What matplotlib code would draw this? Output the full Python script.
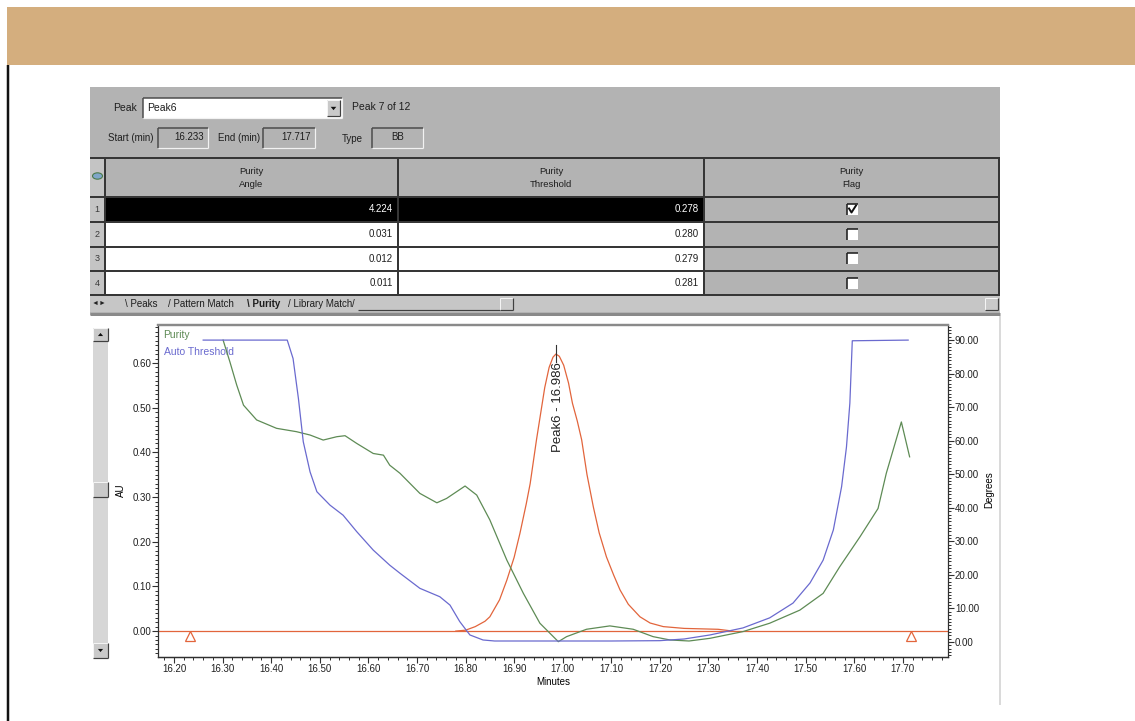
import matplotlib
matplotlib.use("Agg")
import matplotlib.pyplot as plt
from matplotlib.patches import Rectangle, Polygon, Circle
from matplotlib.lines import Line2D
from matplotlib.ticker import MultipleLocator, FormatStrFormatter
from matplotlib.transforms import offset_copy

FONT = ["Liberation Sans", "DejaVu Sans"]
plt.rcParams["font.family"] = FONT

# ---------------- data ----------------
peak_name = "Peak6"
peak_rt = 16.986
peak_start = 16.233
peak_end = 17.717
peak_type = "BB"
peak_index, peak_count = 7, 12

table_rows = [1, 2, 3, 4]
purity_angle = [4.224, 0.031, 0.012, 0.011]
purity_threshold = [0.278, 0.280, 0.279, 0.281]
purity_flag = [True, False, False, False]
tab_names = ["Peaks", "Pattern Match", "Purity", "Library Match"]

# chromatogram (AU)
chrom_t = [16.78, 16.80, 16.82, 16.84, 16.85, 16.87, 16.885, 16.90, 16.912, 16.925,
           16.933, 16.946, 16.955, 16.963, 16.972, 16.98, 16.986, 16.993, 17.002,
           17.012, 17.02, 17.03, 17.039, 17.05, 17.063, 17.075, 17.09, 17.105,
           17.118, 17.135, 17.159, 17.18, 17.207, 17.25, 17.32, 17.35]
chrom_au = [0.0, 0.002, 0.010, 0.022, 0.032, 0.070, 0.114, 0.165, 0.219, 0.285,
            0.330, 0.428, 0.490, 0.545, 0.590, 0.613, 0.620, 0.615, 0.595,
            0.555, 0.510, 0.470, 0.428, 0.350, 0.278, 0.220, 0.166, 0.125,
            0.092, 0.060, 0.032, 0.018, 0.010, 0.006, 0.004, 0.0]

# purity angle (degrees)
purity_t = [16.301, 16.315, 16.329, 16.343, 16.37, 16.411, 16.452, 16.48, 16.507,
            16.535, 16.552, 16.576, 16.61, 16.631, 16.644, 16.665, 16.706, 16.741,
            16.761, 16.799, 16.823, 16.85, 16.885, 16.919, 16.953, 16.991, 17.008,
            17.049, 17.097, 17.145, 17.186, 17.221, 17.26, 17.303, 17.371, 17.426,
            17.488, 17.536, 17.570, 17.612, 17.649, 17.666, 17.697, 17.714]
purity_deg = [90, 83.5, 76.6, 70.6, 66.2, 63.7, 62.7, 61.7, 60.2,
              61.2, 61.5, 59.2, 56.2, 55.7, 52.7, 50.3, 44.3, 41.5,
              42.8, 46.5, 43.8, 36.4, 24.4, 14.5, 5.6, 0.1, 1.6,
              3.8, 4.8, 3.8, 1.6, 0.6, 0.3, 1.1, 3.1, 5.6,
              9.5, 14.5, 22.4, 31.4, 39.8, 50.3, 65.6, 55.2]

# auto threshold (degrees)
thresh_t = [16.26, 16.433, 16.445, 16.456, 16.466, 16.48, 16.494, 16.521, 16.548,
            16.576, 16.61, 16.644, 16.665, 16.706, 16.747, 16.768, 16.788, 16.809,
            16.836, 16.86, 17.0, 17.10, 17.20, 17.25, 17.303, 17.371, 17.426,
            17.474, 17.509, 17.536, 17.557, 17.574, 17.584, 17.591, 17.596, 17.711]
thresh_deg = [90, 90, 84.5, 72.6, 59.7, 50.7, 44.8, 40.8, 37.8,
              32.9, 27.4, 22.9, 20.5, 16.0, 13.5, 11.0, 6.1, 2.1,
              0.6, 0.3, 0.3, 0.3, 0.4, 0.9, 2.1, 4.2, 7.2,
              11.6, 17.6, 24.4, 33.4, 46.3, 58.1, 71.2, 89.8, 90]

# ---------------- colours ----------------
C_BANNER = "#D4AE7E"
C_PANEL = "#B3B3B3"
C_DARK = "#363636"
C_RED = "#E2653C"
C_GREEN = "#5E8B55"
C_BLUE = "#6A6ACF"

W, H = 1135, 721
fig = plt.figure(figsize=(W / 100, H / 100), dpi=100)
fig.patch.set_facecolor("white")


def fx(px):
    return px / W


def fy(py):
    return 1 - py / H


def rect(x0, y0, x1, y1, fc, ec="none", lw=0, z=-10):
    fig.add_artist(Rectangle((fx(x0), fy(y1)), (x1 - x0) / W, (y1 - y0) / H,
                             transform=fig.transFigure, facecolor=fc,
                             edgecolor=ec, linewidth=lw, zorder=z))


def line(x0, y0, x1, y1, color, lw_px=1.0, z=-9):
    fig.add_artist(Line2D([fx(x0), fx(x1)], [fy(y0), fy(y1)],
                          transform=fig.transFigure, color=color,
                          linewidth=lw_px * 0.72, zorder=z,
                          solid_capstyle="butt"))


def txt(x, y, s, size=7.5, color="#1e1e1e", ha="left", va="center",
        weight="normal", z=-7):
    fig.text(fx(x), fy(y), s, fontsize=size, color=color, ha=ha, va=va,
             fontweight=weight, zorder=z)


def sunken(x0, y0, x1, y1, fc):
    rect(x0, y0, x1, y1, fc, z=-9)
    line(x0, y0, x1, y0, "#4a4a4a", 1.5, z=-8)
    line(x0, y0, x0, y1, "#4a4a4a", 1.5, z=-8)
    line(x0, y1, x1, y1, "#f2f2f2", 1.2, z=-8)
    line(x1, y0, x1, y1, "#f2f2f2", 1.2, z=-8)


def raised(x0, y0, x1, y1, fc="#c9c9c9"):
    rect(x0, y0, x1, y1, fc, z=-8)
    line(x0, y0, x1, y0, "#f4f4f4", 1.0, z=-7.5)
    line(x0, y0, x0, y1, "#f4f4f4", 1.0, z=-7.5)
    line(x0, y1, x1, y1, "#404040", 1.2, z=-7.5)
    line(x1, y0, x1, y1, "#404040", 1.2, z=-7.5)


def tri(cx, cy, up=True, size=3.0):
    if up:
        pts = [(cx - size, cy + size * 0.6), (cx + size, cy + size * 0.6), (cx, cy - size * 0.6)]
    else:
        pts = [(cx - size, cy - size * 0.6), (cx + size, cy - size * 0.6), (cx, cy + size * 0.6)]
    fig.add_artist(Polygon([(fx(a), fy(b)) for a, b in pts], closed=True,
                           transform=fig.transFigure, facecolor="#111111",
                           edgecolor="none", zorder=-7))


# ---------------- page banner and margin ----------------
rect(7, 7, W, 65, C_BANNER, z=-12)
line(8, 65, 8, H, "#111111", 2.5, z=-11)

# ---------------- peak selector panel ----------------
rect(90, 87, 1000, 315, C_PANEL, z=-11)
txt(113, 108, "Peak")
sunken(143, 98, 342, 118, "white")
txt(147, 108, peak_name)
raised(327, 100, 340, 116)
tri(333.5, 108.5, up=False, size=2.8)
txt(352, 107.5, f"Peak {peak_index} of {peak_count}")

txt(108, 138, "Start (min)", size=7)
sunken(158, 128, 208, 148, C_PANEL)
txt(204, 137.5, f"{peak_start:.3f}", size=7, ha="right")
txt(218, 138, "End (min)", size=7)
sunken(263, 128, 315, 148, C_PANEL)
txt(311, 137.5, f"{peak_end:.3f}", size=7, ha="right")
txt(342, 139, "Type", size=7)
sunken(372, 128, 423, 148, C_PANEL)
txt(398, 137.5, peak_type, size=7, ha="center")

# ---------------- results table ----------------
row_edges = [158, 197, 222, 246.5, 271, 295]
col_edges = [90, 105, 398, 704, 999]
rect(90, 158, 105, 295, "#c4c4c4", z=-10)
for i, r in enumerate(table_rows):
    y0, y1 = row_edges[i + 1], row_edges[i + 2]
    fill = "black" if i == 0 else "white"
    rect(105, y0, 704, y1, fill, z=-10)
    tcol = "white" if i == 0 else "#1e1e1e"
    txt(97, (y0 + y1) / 2, str(r), size=6.5, color="#3a3a3a", ha="center")
    txt(393, (y0 + y1) / 2, f"{purity_angle[i]:.3f}", size=7, color=tcol, ha="right")
    txt(699, (y0 + y1) / 2, f"{purity_threshold[i]:.3f}", size=7, color=tcol, ha="right")
    # flag checkbox
    cx, cy = 852, (y0 + y1) / 2
    rect(847, cy - 5.5, 858, cy + 5.5, "white", z=-8)
    line(847, cy - 5.5, 858, cy - 5.5, "#202020", 1.6, z=-7.5)
    line(847, cy - 5.5, 847, cy + 5.5, "#202020", 1.6, z=-7.5)
    if purity_flag[i]:
        fig.add_artist(Line2D([fx(849), fx(851.5), fx(856)],
                              [fy(cy - 1), fy(cy + 3), fy(cy - 4)],
                              transform=fig.transFigure, color="#111111",
                              linewidth=1.4, zorder=-7))

for y in row_edges:
    line(90, y, 1000, y, C_DARK, 2.0, z=-8.5)
for x in col_edges[1:]:
    line(x, 158, x, 295, C_DARK, 2.0, z=-8.5)

headers = [("Purity", "Angle"), ("Purity", "Threshold"), ("Purity", "Flag")]
for (a, b), x0, x1 in zip(headers, col_edges[1:-1], col_edges[2:]):
    xc = (x0 + x1) / 2
    txt(xc, 171, a, size=6.8, ha="center")
    txt(xc, 184.5, b, size=6.8, ha="center")

# small header icon
fig.add_artist(Circle((fx(97.5), fy(176)), 5.0 / W, transform=fig.transFigure,
                      facecolor="#7fa6c9", edgecolor="#4a7a4a", linewidth=0.8,
                      zorder=-7))

# ---------------- tab strip ----------------
rect(90, 296, 1000, 312, "#c6c6c6", z=-10)
txt(92, 303.5, "\u25C4", size=5, color="#222222")
txt(99, 303.5, "\u25BA", size=5, color="#222222")
tab_x = [125, 168, 247, 288]
for name, x in zip(tab_names, tab_x):
    bold = "bold" if name == "Purity" else "normal"
    sep = "\\ " if name in ("Peaks", "Purity") else "/ "
    txt(x, 304, sep + name, size=7, weight=bold)
txt(352, 304, "/", size=7)
line(358, 310, 500, 310, "#404040", 1.2)
raised(500, 298, 513, 310)
raised(985, 298, 998, 310)
line(90, 314, 1000, 314, "#8a8a8a", 3.0, z=-9)

# ---------------- chart panel ----------------
line(1000, 316, 1000, 705, "#cfcfcf", 1.5, z=-9)
rect(93, 328, 108, 658, "#d6d6d6", z=-10)
raised(93, 328, 108, 341)
tri(100.5, 334.5, up=True, size=2.6)
raised(93, 643, 108, 658)
tri(100.5, 650.5, up=False, size=2.6)
raised(93, 482, 108, 497)

ax = fig.add_axes([158 / W, 1 - 657 / H, 790 / W, 332 / H])
ax2 = ax.twinx()
ax.set_zorder(1)
ax2.set_zorder(2)
ax2.patch.set_visible(False)

ax.set_xlim(16.167, 17.793)
ax.set_ylim(-0.058, 0.685)
ax2.set_ylim(-4.47, 94.5)

# baseline and chromatogram
ax.axhline(0.0, color=C_RED, linewidth=0.9)
ax.plot(chrom_t, chrom_au, color=C_RED, linewidth=0.9)
ax.plot([peak_start, peak_end], [-0.012, -0.012], linestyle="none",
        marker="^", markersize=7, markerfacecolor="none",
        markeredgecolor=C_RED, markeredgewidth=0.9)

# peak label
apex = max(chrom_au)
ax.plot([peak_rt, peak_rt], [apex - 0.017, apex + 0.02], color="#333333", linewidth=0.8)
label_tf = offset_copy(ax.transData, fig=fig, x=2.5, y=0, units="dots")
ax.text(peak_rt, apex - 0.019, f"{peak_name} - {peak_rt:.3f}", rotation=90,
        ha="center", va="top", fontsize=9.5, color="#222222", transform=label_tf)

# purity and threshold curves
ax2.plot(purity_t, purity_deg, color=C_GREEN, linewidth=0.9)
ax2.plot(thresh_t, thresh_deg, color=C_BLUE, linewidth=0.9)

ax.text(0.007, 0.970, "Purity", transform=ax.transAxes, color=C_GREEN,
        fontsize=7.5, ha="left", va="center")
ax.text(0.007, 0.919, "Auto Threshold", transform=ax.transAxes, color=C_BLUE,
        fontsize=7.5, ha="left", va="center")

# axes styling
ax.xaxis.set_major_locator(MultipleLocator(0.1))
ax.xaxis.set_minor_locator(MultipleLocator(0.02))
ax.xaxis.set_major_formatter(FormatStrFormatter("%.2f"))
ax.yaxis.set_major_locator(MultipleLocator(0.1))
ax.yaxis.set_minor_locator(MultipleLocator(0.01))
ax.yaxis.set_major_formatter(FormatStrFormatter("%.2f"))
ax2.yaxis.set_major_locator(MultipleLocator(10))
ax2.yaxis.set_minor_locator(MultipleLocator(1))
ax2.yaxis.set_major_formatter(FormatStrFormatter("%.2f"))

for a in (ax, ax2):
    a.tick_params(which="major", direction="out", length=4, width=0.8,
                  color="#303030", labelsize=7, labelcolor="#202020", pad=1)
    a.tick_params(which="minor", direction="out", length=2.2, width=0.7,
                  color="#303030")
    for s in a.spines.values():
        s.set_color("#303030")
        s.set_linewidth(0.9)
    a.spines["top"].set_color("#8a8a8a")
    a.spines["top"].set_linewidth(1.6)
ax.tick_params(axis="x", which="both", top=False)
ax2.spines["left"].set_visible(False)
ax.spines["right"].set_visible(False)

ax.set_xlabel("Minutes", fontsize=7, labelpad=2)
ax.set_ylabel("AU", fontsize=7)
ax.yaxis.set_label_coords(-0.041, 0.503)
ax2.set_ylabel("Degrees", fontsize=7)
ax2.yaxis.set_label_coords(1.046, 0.503)

fig.savefig("out.png", dpi=100, facecolor="white")
